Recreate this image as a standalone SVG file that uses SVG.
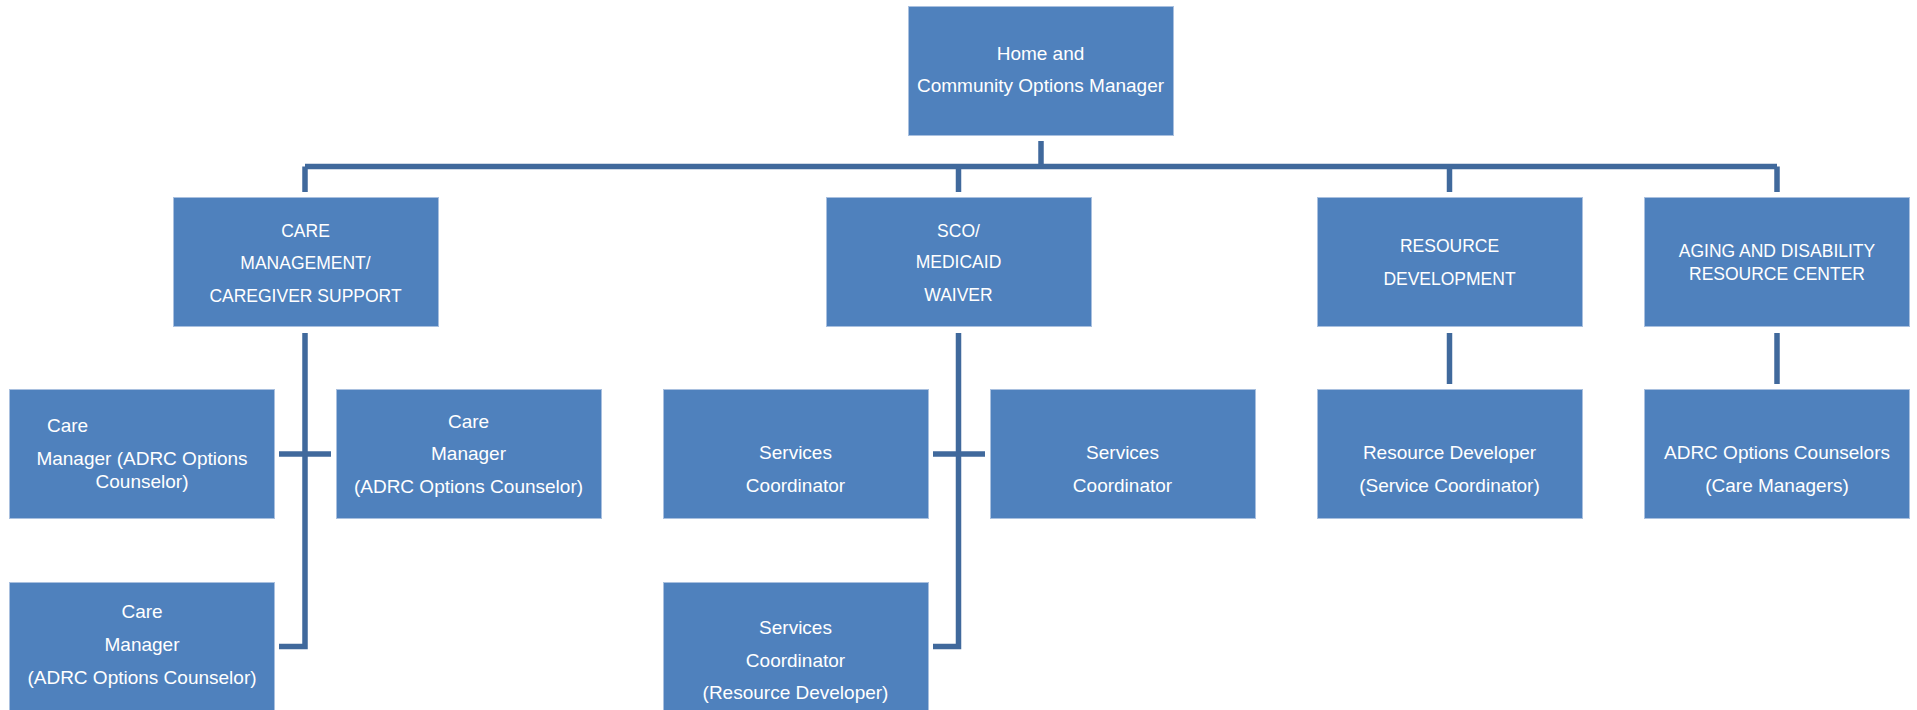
<svg xmlns="http://www.w3.org/2000/svg" width="1917" height="710" viewBox="0 0 1917 710">
<style>
.box{fill:#4F81BD;stroke:#A9C0DF;stroke-width:1}
.t{font-family:"Liberation Sans",Arial,sans-serif;font-size:19px;fill:#FFFFFF;text-anchor:middle}
.u{font-size:17.5px}
.s{font-family:"Liberation Sans",Arial,sans-serif;font-size:19px;fill:#FFFFFF}
.c{fill:none;stroke:#40699C;stroke-width:5.5;stroke-linecap:butt;stroke-linejoin:miter}
</style>
<rect width="1917" height="710" fill="#FFFFFF"/>
<g id="connectors">
<path class="c" d="M1041,141 V167"/>
<path class="c" d="M305,166.5 H1777"/>
<path class="c" d="M305,166.5 V192"/>
<path class="c" d="M958.5,166.5 V192"/>
<path class="c" d="M1449.5,166.5 V192"/>
<path class="c" d="M1777,166.5 V192"/>
<path class="c" d="M305,333 V646.5 H279"/>
<path class="c" d="M279,454 H331"/>
<path class="c" d="M958.5,333 V646.5 H933"/>
<path class="c" d="M933,454 H985"/>
<path class="c" d="M1449.5,333 V384"/>
<path class="c" d="M1777,333 V384"/>
</g>
<g id="home-community-options-manager">
<rect class="box" x="908.5" y="6.5" width="265" height="129"/>
<text class="t" x="1040.5" y="60">Home and</text>
<text class="t" x="1040.5" y="92">Community Options Manager</text>
</g>
<g id="care-management">
<rect class="box" x="173.5" y="197.5" width="265" height="129"/>
<text class="t u" x="305.5" y="237">CARE</text>
<text class="t u" x="305.5" y="269">MANAGEMENT/</text>
<text class="t u" x="305.5" y="302">CAREGIVER SUPPORT</text>
</g>
<g id="sco-medicaid-waiver">
<rect class="box" x="826.5" y="197.5" width="265" height="129"/>
<text class="t u" x="958.5" y="237">SCO/</text>
<text class="t u" x="958.5" y="268">MEDICAID</text>
<text class="t u" x="958.5" y="301">WAIVER</text>
</g>
<g id="resource-development">
<rect class="box" x="1317.5" y="197.5" width="265" height="129"/>
<text class="t u" x="1449.5" y="252">RESOURCE</text>
<text class="t u" x="1449.5" y="285">DEVELOPMENT</text>
</g>
<g id="adrc">
<rect class="box" x="1644.5" y="197.5" width="265" height="129"/>
<text class="t u" x="1777" y="257">AGING AND DISABILITY</text>
<text class="t u" x="1777" y="280">RESOURCE CENTER</text>
</g>
<g id="care-manager-1">
<rect class="box" x="9.5" y="389.5" width="265" height="129"/>
<text class="s" x="47" y="432">Care</text>
<text class="t" x="142" y="465">Manager (ADRC Options</text>
<text class="t" x="142" y="488">Counselor)</text>
</g>
<g id="care-manager-2">
<rect class="box" x="336.5" y="389.5" width="265" height="129"/>
<text class="t" x="468.5" y="428">Care</text>
<text class="t" x="468.5" y="460">Manager</text>
<text class="t" x="468.5" y="493">(ADRC Options Counselor)</text>
</g>
<g id="care-manager-3">
<rect class="box" x="9.5" y="582.5" width="265" height="130"/>
<text class="t" x="142" y="618">Care</text>
<text class="t" x="142" y="651">Manager</text>
<text class="t" x="142" y="684">(ADRC Options Counselor)</text>
</g>
<g id="services-coordinator-1">
<rect class="box" x="663.5" y="389.5" width="265" height="129"/>
<text class="t" x="795.5" y="459">Services</text>
<text class="t" x="795.5" y="492">Coordinator</text>
</g>
<g id="services-coordinator-2">
<rect class="box" x="990.5" y="389.5" width="265" height="129"/>
<text class="t" x="1122.5" y="459">Services</text>
<text class="t" x="1122.5" y="492">Coordinator</text>
</g>
<g id="services-coordinator-3">
<rect class="box" x="663.5" y="582.5" width="265" height="130"/>
<text class="t" x="795.5" y="634">Services</text>
<text class="t" x="795.5" y="667">Coordinator</text>
<text class="t" x="795.5" y="699">(Resource Developer)</text>
</g>
<g id="resource-developer">
<rect class="box" x="1317.5" y="389.5" width="265" height="129"/>
<text class="t" x="1449.5" y="459">Resource Developer</text>
<text class="t" x="1449.5" y="492">(Service Coordinator)</text>
</g>
<g id="adrc-options-counselors">
<rect class="box" x="1644.5" y="389.5" width="265" height="129"/>
<text class="t" x="1777" y="459">ADRC Options Counselors</text>
<text class="t" x="1777" y="492">(Care Managers)</text>
</g>
</svg>
